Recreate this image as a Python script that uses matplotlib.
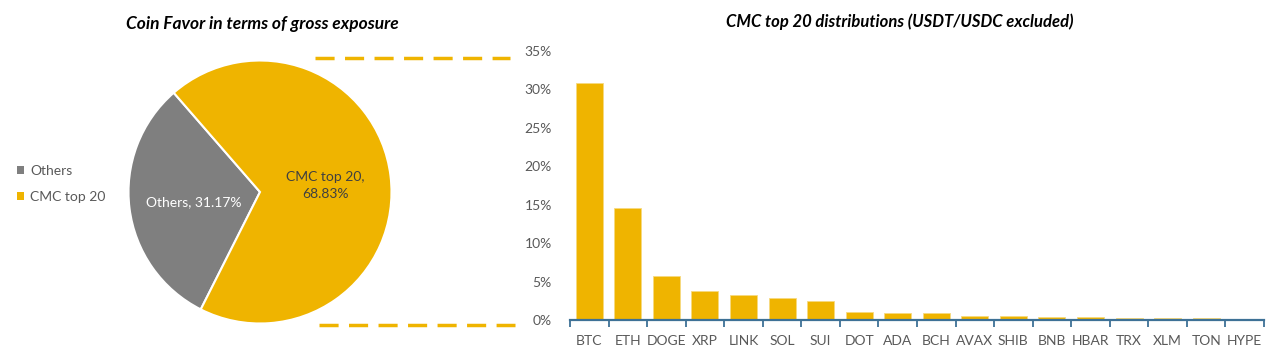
import matplotlib
matplotlib.use("Agg")
import matplotlib.pyplot as plt
from matplotlib.lines import Line2D
from matplotlib.patches import Patch
from matplotlib.ticker import FuncFormatter, MultipleLocator

plt.rcParams['font.family'] = ['Lato', 'DejaVu Sans']

# ---- data ----
pie_labels = ["Others", "CMC top 20"]
pie_values = [31.17, 68.83]

coins = ["BTC", "ETH", "DOGE", "XRP", "LINK", "SOL", "SUI", "DOT", "ADA", "BCH",
         "AVAX", "SHIB", "BNB", "HBAR", "TRX", "XLM", "TON", "HYPE"]
shares = [0.308, 0.145, 0.057, 0.0377, 0.032, 0.0286, 0.0247, 0.0104, 0.0095, 0.0087,
          0.0052, 0.0052, 0.0039, 0.0039, 0.0026, 0.0020, 0.0020, 0.0002]

YELLOW = "#EFB400"
GRAY = "#7F7F7F"
AXIS_BLUE = "#3E7196"
TEXT_GRAY = "#595959"

W, H = 1280, 357
fig = plt.figure(figsize=(12.8, 3.57), dpi=100)

def fx(px):
    return px / W

def fy(py):
    return 1 - py / H

# ---- pie ----
cx, cy, r = 260, 192, 131.5
axp = fig.add_axes([fx(cx - r), fy(cy + r), 2 * r / W, 2 * r / H])
wedges, _ = axp.pie(pie_values, colors=[GRAY, YELLOW], startangle=131,
                    counterclock=True, radius=1,
                    wedgeprops=dict(edgecolor="white", linewidth=1.5))
axp.set_xlim(-1.0, 1.0)
axp.set_ylim(-1.0, 1.0)
axp.set_aspect("auto")
axp.axis("off")
axp.text(-0.50, -0.076, f"{pie_labels[0]}, {pie_values[0]:.2f}%", color="white",
         fontsize=10, ha="center", va="center")
axp.text(0.50, 0.05, f"{pie_labels[1]},\n{pie_values[1]:.2f}%", color="#404040",
         fontsize=10, ha="center", va="center", linespacing=1.45)

fig.text(fx(262), fy(24), "Coin Favor in terms of gross exposure", ha="center",
         va="center", fontsize=12.5, fontweight="bold", fontstyle="italic", color="black")

handles = [Patch(facecolor=GRAY), Patch(facecolor=YELLOW)]
fig.legend(handles, pie_labels, loc="center left", bbox_to_anchor=(fx(4), fy(184)),
           frameon=False, fontsize=10, handlelength=0.55, handleheight=0.55,
           handletextpad=0.45, labelspacing=1.0, labelcolor=TEXT_GRAY)

# dashed connector lines
fig.add_artist(Line2D([fx(315), fx(510)], [fy(58), fy(58)], transform=fig.transFigure,
                      color=YELLOW, linewidth=2.5, dashes=(5.5, 3)))
fig.add_artist(Line2D([fx(319), fx(515)], [fy(325), fy(325)], transform=fig.transFigure,
                      color=YELLOW, linewidth=2.5, dashes=(5.5, 3)))

# ---- bars ----
left, right, bottom, top = 570, 1264, 320, 50.7
axb = fig.add_axes([fx(left), fy(bottom), (right - left) / W, (bottom - top) / H])
x = list(range(len(coins)))
axb.bar(x, shares, width=0.7, color=YELLOW, edgecolor="#F7D980", linewidth=0.6, zorder=2)
axb.set_xlim(-0.5, len(coins) - 0.5)
axb.set_ylim(0, 0.35)
axb.yaxis.set_major_locator(MultipleLocator(0.05))
axb.yaxis.set_major_formatter(FuncFormatter(lambda v, p: f"{v*100:.0f}%"))
axb.tick_params(axis="y", length=0, labelsize=10, labelcolor=TEXT_GRAY, pad=13)
axb.set_xticks(x)
axb.set_xticklabels(coins)
axb.tick_params(axis="x", which="major", length=0, labelsize=10, labelcolor=TEXT_GRAY, pad=11)
axb.set_xticks([i - 0.5 for i in range(len(coins) + 1)], minor=True)
axb.tick_params(axis="x", which="minor", length=5, width=1.3, color=AXIS_BLUE, direction="out")
for s in ["left", "right", "top"]:
    axb.spines[s].set_visible(False)
axb.spines["bottom"].set_color(AXIS_BLUE)
axb.spines["bottom"].set_linewidth(1.6)
axb.spines["bottom"].set_zorder(3)

fig.text(fx(900), fy(22), "CMC top 20 distributions (USDT/USDC excluded)", ha="center",
         va="center", fontsize=12, fontweight="bold", fontstyle="italic", color="black")

fig.savefig("out.png", dpi=100)
